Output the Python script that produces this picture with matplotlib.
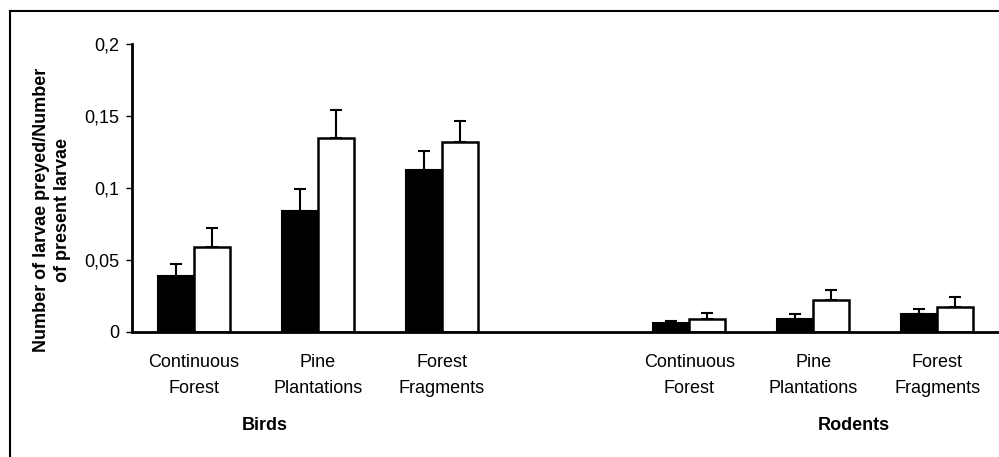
#!/usr/bin/env python3
"""
Larvae predation rate by habitat type, birds vs rodents (grouped bars)
"""

import numpy as np
import matplotlib
matplotlib.use('Agg')
import matplotlib.pyplot as plt
import matplotlib.transforms as mtransforms
from matplotlib.lines import Line2D

plt.rcParams['font.family'] = ['Liberation Sans', 'DejaVu Sans']

# Data
habitats = ['Continuous\nForest', 'Pine\nPlantations', 'Forest\nFragments']
groups = ['Birds', 'Rodents']

birds_black = [0.039, 0.084, 0.1125]
birds_black_err = [0.008, 0.015, 0.0135]
birds_white = [0.059, 0.135, 0.132]
birds_white_err = [0.013, 0.019, 0.0145]

rodents_black = [0.006, 0.009, 0.0125]
rodents_black_err = [0.0015, 0.0035, 0.0035]
rodents_white = [0.009, 0.022, 0.0175]
rodents_white_err = [0.004, 0.007, 0.0065]

yticks = [0, 0.05, 0.1, 0.15, 0.2]
ytick_labels = ['0', '0,05', '0,1', '0,15', '0,2']

W, H = 999, 457
fig = plt.figure(figsize=(W / 100, H / 100), dpi=100)
ax = fig.add_axes([132 / W, (H - 332) / H, (999 - 132) / W, (332 - 44) / H])

# birds at slots 0-2, empty slot 3, rodents at slots 4-6
x_birds = np.arange(3)
x_rodents = np.arange(3) + 4
bw = 0.29

black = birds_black + rodents_black
black_err = birds_black_err + rodents_black_err
white = birds_white + rodents_white
white_err = birds_white_err + rodents_white_err
x = np.concatenate([x_birds, x_rodents])

ax.bar(x - bw / 2, black, bw, color='black', edgecolor='black', linewidth=1.5, zorder=2)
ax.bar(x + bw / 2, white, bw, color='white', edgecolor='black', linewidth=1.8, zorder=2)
ax.errorbar(x - bw / 2, black, yerr=[np.zeros(len(black)), black_err], fmt='none',
            ecolor='black', elinewidth=1.5, capsize=4.5, capthick=1.5, zorder=3)
ax.errorbar(x + bw / 2, white, yerr=[np.zeros(len(white)), white_err], fmt='none',
            ecolor='black', elinewidth=1.5, capsize=4.5, capthick=1.5, zorder=3)

ax.set_xlim(-0.5, 6.5)
ax.set_ylim(0, 0.2)
ax.set_yticks(yticks)
ax.set_yticklabels(ytick_labels, fontsize=13)
ax.set_xticks(x)
ax.set_xticklabels(habitats * 2, fontsize=13, linespacing=1.7)
ax.tick_params(axis='x', length=0, pad=16)
ax.tick_params(axis='y', length=4, width=1, direction='out', pad=5)

for side in ['top', 'right']:
    ax.spines[side].set_visible(False)
ax.spines['left'].set_linewidth(2)
ax.spines['bottom'].set_linewidth(2)

# group labels under the habitat names
trans = mtransforms.blended_transform_factory(ax.transData, ax.transAxes)
ax.text(0.57, -0.323, groups[0], transform=trans, ha='center', va='center',
        fontsize=13, fontweight='bold')
ax.text(5.33, -0.323, groups[1], transform=trans, ha='center', va='center',
        fontsize=13, fontweight='bold')

fig.text(52 / W, 1 - 210 / H, 'Number of larvae preyed/Number\nof present larvae',
         rotation=90, ha='center', va='center', fontsize=13, fontweight='bold',
         multialignment='center', linespacing=1.3)

# frame lines around the figure (left and top only visible)
fig.add_artist(Line2D([9.5 / W, 9.5 / W], [0, 1 - 11 / H], color='black', lw=1.5,
                      transform=fig.transFigure))
fig.add_artist(Line2D([9.5 / W, 1], [1 - 11 / H, 1 - 11 / H], color='black', lw=1.5,
                      transform=fig.transFigure))

fig.savefig('out.png', dpi=100)
